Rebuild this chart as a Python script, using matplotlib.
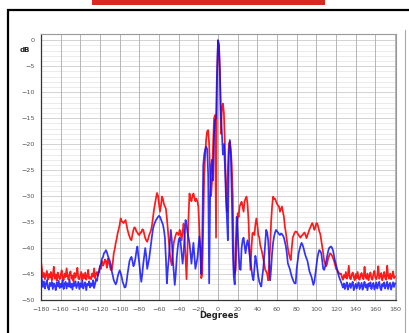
import matplotlib
matplotlib.use("Agg")
import matplotlib.pyplot as plt
import numpy as np
from matplotlib.patches import Rectangle
from matplotlib.lines import Line2D

# angles, one value per degree
angles = np.arange(-180, 181, 1)

# red trace (dB)
red = [
    -42.5, -44.0, -45.6, -44.8, -46.0, -45.2, -44.4, -46.1, -45.0, -45.7,
    -44.6, -46.2, -45.3, -43.6, -45.9, -45.1, -46.3, -44.7, -45.5, -46.0,
    -45.2, -44.3, -45.8, -46.2, -44.9, -45.6, -43.9, -45.4, -46.1, -45.0,
    -44.5, -45.9, -45.3, -46.4, -44.8, -45.7, -45.1, -43.8, -45.9, -46.0,
    -45.3, -44.6, -46.2, -45.0, -45.8, -44.7, -46.1, -45.4, -44.2, -45.9,
    -45.6, -46.0, -44.9, -45.5, -43.9, -45.8, -45.0, -44.6, -45.3, -44.4,
    -43.5, -44.0, -42.5, -43.4, -43.0, -42.2, -42.5, -43.8, -42.0, -42.8,
    -43.5, -44.2, -44.2, -42.8, -41.0, -40.2, -39.0, -38.2, -37.1, -36.4,
    -35.5, -34.3, -34.8, -35.0, -35.2, -34.9, -34.6, -35.6, -36.5, -37.2,
    -37.8, -38.3, -38.5, -37.4, -36.5, -36.0, -36.2, -36.8, -37.0, -37.4,
    -37.5, -37.0, -37.0, -36.4, -36.5, -37.3, -38.1, -38.5, -38.8, -38.2,
    -37.5, -37.0, -36.5, -35.4, -34.0, -32.5, -31.4, -30.3, -29.4, -30.0,
    -31.5, -33.0, -31.8, -30.1, -30.6, -31.5, -32.0, -32.4, -34.2, -36.5,
    -38.8, -41.0, -42.5, -43.3, -41.0, -39.0, -38.2, -37.5, -37.0, -37.2,
    -37.5, -36.5, -37.2, -38.5, -36.8, -35.3, -38.0, -42.0, -46.0, -40.0,
    -34.0, -29.5, -30.5, -31.0, -30.0, -29.5, -30.3, -31.0, -30.5, -31.0,
    -32.0, -36.0, -40.4, -45.8, -45.0, -35.0, -26.0, -22.0, -19.0, -17.5,
    -17.3, -20.0, -26.0, -30.0, -27.0, -20.0, -15.0, -14.4, -38.0, -8.0,
    0.0, -1.5, -6.0, -18.0, -13.0, -12.2, -14.0, -20.0, -28.0, -33.0,
    -25.0, -20.0, -19.5, -21.0, -24.0, -30.0, -44.0, -45.0, -44.2, -38.0,
    -33.3, -34.0, -32.0, -31.5, -31.1, -32.0, -33.0, -31.0, -30.5, -30.1,
    -31.5, -34.6, -40.0, -44.2, -40.0, -37.2, -37.0, -37.5, -35.5, -34.3,
    -35.5, -37.5, -38.0, -39.5, -40.2, -41.0, -42.0, -43.0, -44.2, -44.5,
    -45.0, -46.2, -43.0, -40.0, -35.0, -32.0, -30.1, -30.5, -30.5, -31.0,
    -31.5, -31.8, -32.0, -33.0, -32.5, -32.0, -33.0, -34.0, -35.9, -37.0,
    -38.5, -40.0, -41.0, -41.8, -42.3, -40.0, -38.0, -37.5, -37.0, -36.8,
    -36.9, -37.2, -37.5, -37.8, -38.0, -37.6, -37.5, -37.2, -37.0, -37.5,
    -38.1, -37.5, -37.0, -36.4, -36.0, -35.5, -35.2, -35.8, -36.5, -36.0,
    -35.2, -35.3, -36.0, -36.8, -37.3, -38.5, -39.7, -41.0, -42.5, -43.0,
    -43.5, -43.0, -42.0, -41.5, -41.0, -41.2, -41.5, -42.0, -42.5, -43.2,
    -44.0, -44.2, -44.5, -44.8, -45.0, -44.9, -45.6, -46.1, -45.2, -45.7,
    -44.6, -45.9, -45.3, -43.4, -45.8, -46.0, -45.1, -44.7, -45.6, -46.2,
    -45.0, -45.8, -44.6, -45.9, -46.1, -45.2, -44.8, -45.7, -46.0, -43.6,
    -45.4, -45.9, -44.9, -46.2, -45.3, -44.7, -45.8, -46.1, -45.0, -44.4,
    -45.7, -46.0, -45.2, -43.5, -45.9, -45.4, -44.8, -46.2, -45.5, -44.6,
    -45.8, -46.1, -43.4, -45.3, -45.9, -44.9, -46.0, -45.4, -44.5, -45.8,
    -45.5,
]

# blue trace (dB)
blue = [
    -45.0, -46.2, -47.5, -46.4, -47.8, -46.9, -46.2, -47.6, -48.0, -46.7,
    -47.3, -46.5, -47.9, -46.8, -47.2, -48.1, -46.6, -47.4, -46.3, -47.7,
    -46.9, -47.5, -46.2, -47.9, -47.0, -46.5, -47.8, -46.8, -47.4, -46.1,
    -47.6, -46.9, -48.0, -46.7, -47.3, -46.4, -47.7, -47.1, -46.5, -47.9,
    -46.8, -47.5, -46.3, -47.8, -47.0, -46.6, -48.1, -46.9, -47.2, -46.4,
    -47.6, -46.8, -47.3, -46.2, -47.7, -46.9, -46.0, -46.3, -45.0, -44.6,
    -43.5, -43.0, -42.0, -41.8, -41.0, -40.8, -40.4, -40.8, -41.5, -42.0,
    -42.5, -43.2, -44.5, -45.3, -46.2, -46.6, -47.0, -46.5, -45.5, -44.8,
    -44.3, -44.8, -45.5, -46.5, -47.0, -47.6, -47.5, -46.5, -45.0, -43.8,
    -42.5, -42.0, -41.7, -42.5, -43.5, -43.0, -42.0, -40.6, -39.7, -41.5,
    -43.0, -45.0, -46.5, -45.0, -43.0, -41.5, -40.0, -41.5, -44.0, -43.0,
    -42.0, -40.5, -39.0, -37.5, -36.2, -35.5, -35.0, -34.6, -34.3, -34.0,
    -33.8, -34.0, -34.5, -35.0, -35.5, -36.5, -38.0, -42.0, -46.8, -44.0,
    -42.0, -39.0, -36.5, -38.5, -42.0, -44.5, -47.1, -45.0, -42.0, -40.0,
    -38.5, -38.0, -39.0, -41.0, -43.0, -41.0, -38.0, -34.6, -35.5, -37.0,
    -38.0, -39.0, -41.0, -43.0, -41.0, -39.0, -41.5, -44.0, -43.0, -42.0,
    -40.0, -37.8, -40.0, -45.0, -38.0, -24.0, -22.0, -21.0, -20.5, -21.0,
    -26.0, -46.8, -30.0, -24.0, -23.0, -27.0, -18.0, -15.4, -15.0, -6.0,
    0.0, -0.8, -7.0, -14.7, -18.0, -22.0, -20.0, -24.0, -30.0, -34.0,
    -38.5, -22.0, -19.2, -22.0, -30.0, -40.0, -45.5, -47.0, -40.0, -34.0,
    -37.0, -41.0, -44.0, -44.2, -40.0, -38.5, -38.0, -39.5, -41.0, -39.5,
    -38.5, -39.5, -41.0, -42.5, -44.0, -45.5, -46.2, -44.0, -41.5, -42.5,
    -44.0, -45.5, -46.5, -47.0, -47.4, -45.5, -44.0, -41.7, -39.0, -36.5,
    -37.0, -38.5, -42.0, -46.2, -44.0, -41.0, -39.0, -37.8, -37.0, -36.5,
    -36.8, -37.0, -37.3, -37.5, -37.2, -37.3, -37.6, -38.0, -38.8, -39.7,
    -41.0, -42.9, -43.5, -44.0, -44.8, -45.5, -46.0, -46.5, -46.8, -46.8,
    -44.0, -42.5, -41.0, -40.2, -39.5, -39.0, -39.4, -40.0, -40.8, -41.5,
    -42.0, -42.5, -43.5, -44.5, -45.0, -45.5, -46.3, -47.1, -46.5, -45.0,
    -43.5, -42.0, -41.0, -40.4, -40.6, -41.0, -42.5, -44.0, -44.2, -43.5,
    -42.5, -41.5, -40.6, -40.0, -39.8, -39.7, -40.0, -40.5, -41.5, -42.5,
    -43.2, -44.0, -44.8, -45.5, -46.0, -46.5, -47.0, -47.6, -46.8, -47.9,
    -47.2, -46.6, -48.0, -47.3, -46.8, -47.7, -47.0, -46.5, -48.1, -47.4,
    -46.9, -47.8, -47.1, -46.6, -47.9, -47.3, -46.7, -48.0, -47.2, -46.5,
    -47.6, -47.0, -48.1, -46.8, -47.4, -46.6, -47.9, -47.2, -46.7, -48.0,
    -47.3, -46.6, -47.8, -47.0, -46.5, -47.7, -48.1, -46.9, -47.4, -46.6,
    -47.8, -47.2, -46.5, -47.9, -47.1, -46.7, -48.0, -47.3, -46.6, -47.5,
    -46.8,
]

xticks = list(range(-180, 181, 20))
yticks = list(range(0, -51, -5))

fig = plt.figure(figsize=(4.09, 3.33), dpi=100)
ax = fig.add_axes([41/409, 1-300/333, 355/409, 266/333])

# grid
for y in range(0, -51, -1):
    c = "#cccccc" if y % 5 == 0 else "#e8e8e8"
    ax.axhline(y, color=c, lw=0.6, zorder=0)
for x in xticks:
    ax.axvline(x, color="#b5b5b5", lw=0.7, zorder=0)

ax.plot(angles, red, color="#ff1a1a", lw=1.25, zorder=2)
ax.plot(angles, blue, color="#1010ff", lw=1.25, alpha=0.85, zorder=3)

ax.set_xlim(-180, 181)
ax.set_ylim(-50, 1.2)
ax.set_xticks(xticks)
ax.set_yticks(yticks)
ax.tick_params(length=0, labelsize=4.6, colors="#555555", pad=4.5)
ax.tick_params(axis="x", pad=5)
for s in ["top", "right"]:
    ax.spines[s].set_color("#999999")
    ax.spines[s].set_linewidth(0.8)
for s in ["left", "bottom"]:
    ax.spines[s].set_color("#333333")
    ax.spines[s].set_linewidth(0.9)

fig.text(25/409, 1-50/333, "dB", fontsize=5, fontweight="bold", color="#222222",
         ha="center", va="center")
fig.text(219/409, 1-316/333, "Degrees", fontsize=6, fontweight="bold", color="#222222",
         ha="center", va="center")

# outer frame and top banner
fig.patches.append(Rectangle((8/409, -0.2), 1.2, 0.2 + (1-10/333),
                             transform=fig.transFigure, fill=False, ec="black", lw=1.6))
fig.patches.append(Rectangle((92/409, 1-5/333), 233/409, 5/333,
                             transform=fig.transFigure, fc="#d42a20", ec="none"))
fig.lines.append(Line2D([405/409, 405/409], [0, 1-30/333], transform=fig.transFigure,
                        color="#aaaaaa", lw=0.8))

fig.savefig("out.png", dpi=100)
